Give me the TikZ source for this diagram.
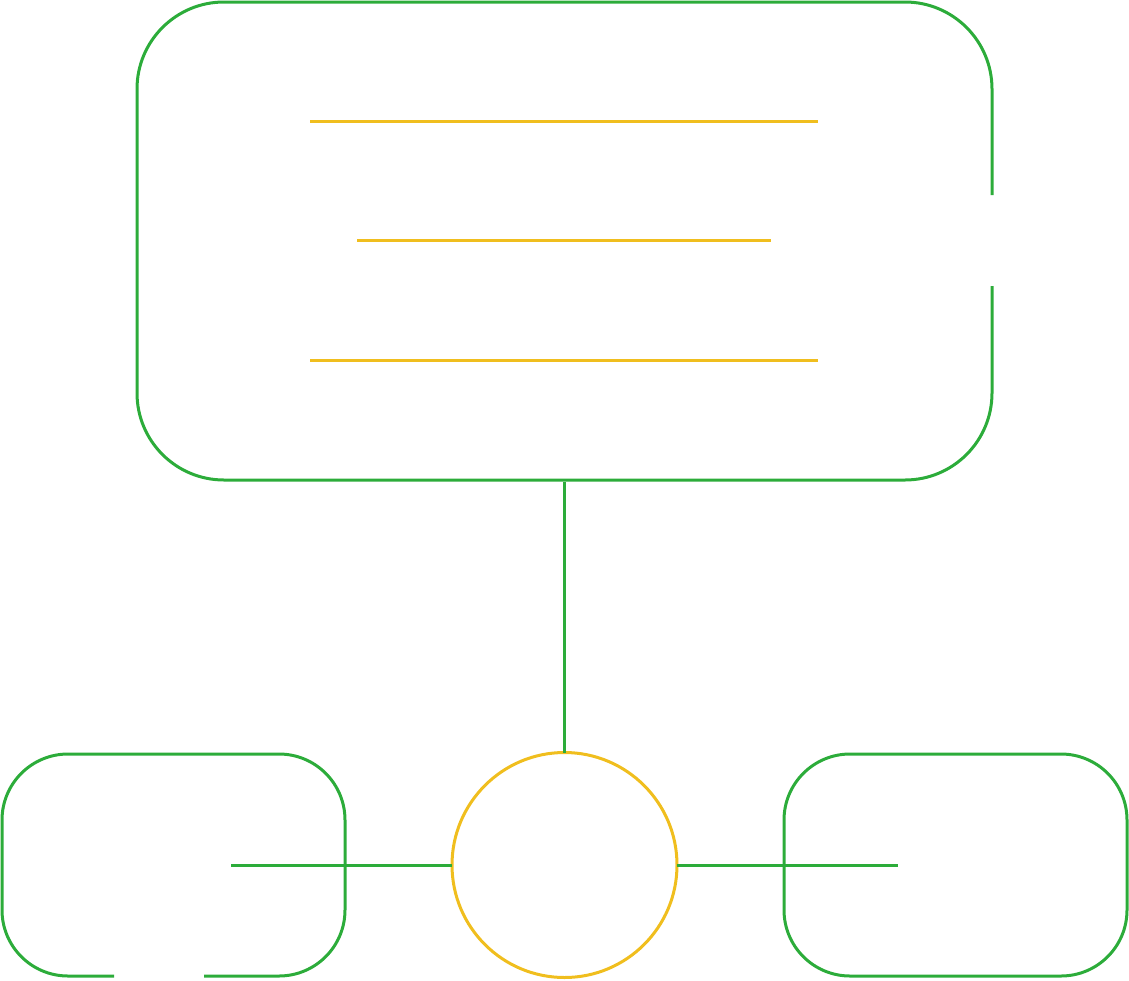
\documentclass[tikz,border=0pt]{standalone}
\definecolor{grn}{RGB}{44,172,58}
\definecolor{yel}{RGB}{240,190,30}
\begin{document}
\begin{tikzpicture}[x=1pt,y=-1pt,line width=3pt,
  gline/.style={draw=grn,line width=3pt},
  yline/.style={draw=yel,line width=3pt}]
\useasboundingbox (0,0) rectangle (1129,980);
% top box (anchor node, outline drawn with a gap on the right)
\node[inner sep=0,minimum width=855,minimum height=478] (top) at (564.5,241) {};
\draw[gline,rounded corners=87] (992,195) -- (992,2) -- (137,2) -- (137,480) -- (992,480) -- (992,286);
% text lines
\coordinate (l1a) at (310,121); \coordinate (l1b) at (818,121);
\coordinate (l2a) at (357,240); \coordinate (l2b) at (771,240);
\coordinate (l3a) at (310,360); \coordinate (l3b) at (818,360);
\draw[yline] (l1a) -- (l1b);
\draw[yline] (l2a) -- (l2b);
\draw[yline] (l3a) -- (l3b);
% hub circle
\node[circle,draw=yel,line width=3pt,minimum size=225,inner sep=0,outer sep=0] (hub) at (564.5,865) {};
% bottom boxes
\draw[gline,rounded corners=66] (114,976) -- (2,976) -- (2,754) -- (345,754) -- (345,976) -- (204,976);
\draw[gline,rounded corners=66] (784,754) rectangle (1127,976);
\coordinate (lend) at (231,865);
\coordinate (rend) at (898,865);
% connectors
\draw[gline] (top.south) -- (hub.north);
\draw[gline] (lend) -- (hub.west);
\draw[gline] (hub.east) -- (rend);
\end{tikzpicture}
\end{document}
